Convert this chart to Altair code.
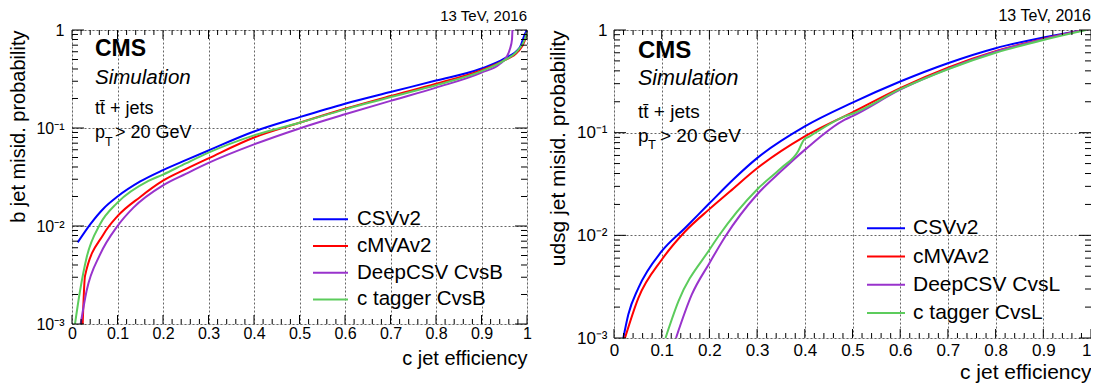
import altair as alt
import pandas as pd

FONT = "Liberation Sans"
COLORS = ["#0000ff", "#ff0000", "#9933cc", "#5ccc5c"]

LEFT_NAMES = ["CSVv2", "cMVAv2", "DeepCSV CvsB", "c tagger CvsB"]
RIGHT_NAMES = ["CSVv2", "cMVAv2", "DeepCSV CvsL", "c tagger CvsL"]

# ---------------- left panel: b jet misid. probability vs c jet efficiency
L_CSV_X = [0.0125, 0.04, 0.07, 0.10, 0.15, 0.20, 0.25, 0.30, 0.40, 0.50, 0.60, 0.70, 0.80, 0.90, 0.95, 0.984, 0.995, 1.0]
L_CSV_Y = [0.0068, 0.0104, 0.0152, 0.020, 0.0285, 0.0372, 0.047, 0.059, 0.092, 0.129, 0.177, 0.233, 0.305, 0.405, 0.51, 0.66, 0.90, 1.0]

L_MVA_X = [0.0235, 0.0286, 0.069, 0.10, 0.15, 0.20, 0.25, 0.30, 0.40, 0.50, 0.60, 0.70, 0.80, 0.90, 0.95, 0.98, 0.995, 1.0]
L_MVA_Y = [0.001, 0.0031, 0.0082, 0.0126, 0.0198, 0.029, 0.038, 0.049, 0.080, 0.113, 0.157, 0.212, 0.283, 0.39, 0.49, 0.60, 0.78, 0.95]

L_DEEP_X = [0.019, 0.032, 0.0615, 0.10, 0.135, 0.20, 0.25, 0.30, 0.40, 0.50, 0.60, 0.70, 0.80, 0.90, 0.94, 0.955, 0.963, 0.967, 0.968]
L_DEEP_Y = [0.001, 0.00217, 0.0051, 0.010, 0.0154, 0.026, 0.034, 0.044, 0.068, 0.099, 0.138, 0.189, 0.258, 0.367, 0.45, 0.53, 0.65, 0.80, 1.0]

L_CTAG_X = [0.0066, 0.0176, 0.032, 0.0615, 0.10, 0.168, 0.20, 0.25, 0.30, 0.40, 0.50, 0.60, 0.70, 0.80, 0.90, 0.95, 0.98, 0.995, 1.0]
L_CTAG_Y = [0.001, 0.00217, 0.00475, 0.0104, 0.0173, 0.0288, 0.0335, 0.0435, 0.056, 0.084, 0.113, 0.155, 0.207, 0.273, 0.38, 0.49, 0.62, 0.80, 0.95]

# ---------------- right panel: udsg jet misid. probability vs c jet efficiency
R_CSV_X = [0.0196, 0.030, 0.051, 0.10, 0.149, 0.20, 0.25, 0.30, 0.40, 0.50, 0.60, 0.70, 0.80, 0.90, 0.985]
R_CSV_Y = [0.001, 0.00169, 0.00306, 0.0070, 0.0118, 0.0205, 0.035, 0.0565, 0.115, 0.196, 0.315, 0.475, 0.665, 0.845, 1.0]

R_MVA_X = [0.023, 0.051, 0.10, 0.149, 0.20, 0.243, 0.30, 0.40, 0.50, 0.60, 0.70, 0.80, 0.90, 0.985]
R_MVA_Y = [0.001, 0.00245, 0.00578, 0.0109, 0.018, 0.0267, 0.045, 0.092, 0.158, 0.272, 0.43, 0.62, 0.82, 1.0]

R_DEEP_X = [0.130, 0.163, 0.20, 0.233, 0.30, 0.35, 0.40, 0.484, 0.50, 0.60, 0.70, 0.80, 0.90, 0.985]
R_DEEP_Y = [0.001, 0.00264, 0.00536, 0.0097, 0.025, 0.042, 0.068, 0.134, 0.145, 0.262, 0.418, 0.615, 0.815, 1.0]

R_CTAG_X = [0.108, 0.135, 0.20, 0.219, 0.30, 0.35, 0.386, 0.398, 0.41, 0.484, 0.50, 0.60, 0.70, 0.80, 0.90, 0.99]
R_CTAG_Y = [0.001, 0.00227, 0.00724, 0.0098, 0.028, 0.045, 0.066, 0.085, 0.092, 0.144, 0.153, 0.265, 0.415, 0.60, 0.80, 1.0]

# ---------------- axes
X_MAJOR = [0.0, 0.1, 0.2, 0.3, 0.4, 0.5, 0.6, 0.7, 0.8, 0.9, 1.0]
X_MINOR = [round(0.02 * i, 2) for i in range(1, 50) if i % 5 != 0]
Y_MAJOR = [0.001, 0.01, 0.1, 1.0]
Y_MINOR = [m * d for d in (0.001, 0.01, 0.1) for m in range(2, 10)]

X_LABEL_EXPR = "datum.value == 0 ? '0' : datum.value == 1 ? '1' : format(datum.value, '.1f')"
Y_LABEL_EXPR = ("datum.value >= 0.5 ? '1' : datum.value >= 0.05 ? '10\u207b\u00b9' : "
                "datum.value >= 0.005 ? '10\u207b\u00b2' : '10\u207b\u00b3'")


def make_df(names, series):
    rows = []
    for k, (xs, ys) in enumerate(series):
        for i, (x, y) in enumerate(zip(xs, ys)):
            rows.append({"x": x, "y": y, "tagger": names[k], "k": k, "i": i})
    return pd.DataFrame(rows)


def panel(names, series, W, H, ytitle, s):
    df = make_df(names, series)
    xs = alt.Scale(domain=[0, 1], nice=False, zero=False)
    ys = alt.Scale(type="log", domain=[0.001, 1], nice=False)
    xalign = "center"
    if s["last_right"]:
        xalign = {"condition": {"test": "datum.value >= 0.99", "value": "right"}, "value": "center"}
    xaxis = alt.Axis(values=X_MAJOR, labelExpr=X_LABEL_EXPR, grid=True, gridDash=[2, 2],
                     gridColor="#666666", gridWidth=1, ticks=False, domain=False,
                     labelFontSize=s["lab"], labelFont=FONT, labelColor="black",
                     labelPadding=s["xlabpad"], labelFlush=False, labelOverlap=False,
                     labelAlign=xalign,
                     title="c jet efficiency", titleAnchor="end", titleFontSize=s["tit"],
                     titleFont=FONT, titleFontWeight="normal", titleColor="black",
                     titlePadding=s["xtitpad"])
    yaxis = alt.Axis(values=Y_MAJOR, labelExpr=Y_LABEL_EXPR, grid=True, gridDash=[2, 2],
                     gridColor="#666666", gridWidth=1, ticks=False, domain=False,
                     labelFontSize=s["lab"], labelFont=FONT, labelColor="black",
                     labelPadding=s["ylabpad"], labelFlush=False, labelOverlap=False,
                     title=ytitle, titleAnchor="end", titleFontSize=s["tit"],
                     titleFont=FONT, titleFontWeight="normal", titleColor="black",
                     titlePadding=s["ytitpad"])

    lines = alt.Chart(df).mark_line(strokeWidth=2, clip=True, interpolate="monotone").encode(
        x=alt.X("x:Q", scale=xs, axis=xaxis),
        y=alt.Y("y:Q", scale=ys, axis=yaxis),
        color=alt.Color("tagger:N", scale=alt.Scale(domain=names, range=COLORS), legend=None),
        detail="k:N",
        order="i:Q",
    )

    layers = [lines]
    xmaj = pd.DataFrame({"t": X_MAJOR})
    xmin = pd.DataFrame({"t": X_MINOR})
    ymaj = pd.DataFrame({"t": Y_MAJOR})
    ymin = pd.DataFrame({"t": Y_MINOR})
    for d, L in ((xmaj, 9), (xmin, 5)):
        for y0, y1 in ((H, H - L), (0, L)):
            layers.append(alt.Chart(d).mark_rule(color="black", strokeWidth=1).encode(
                x=alt.X("t:Q", scale=xs, axis=xaxis), y=alt.value(y0), y2=alt.value(y1)))
    for d, L in ((ymaj, 12), (ymin, 6)):
        for x0, x1 in ((0, L), (W, W - L)):
            layers.append(alt.Chart(d).mark_rule(color="black", strokeWidth=1).encode(
                y=alt.Y("t:Q", scale=ys, axis=yaxis), x=alt.value(x0), x2=alt.value(x1)))

    one = pd.DataFrame({"a": [0]})

    def txt(text, x, y, size, weight="normal", style="normal", align="left", baseline="alphabetic"):
        return alt.Chart(one).mark_text(text=text, font=FONT, fontSize=size, fontWeight=weight,
                                        fontStyle=style, align=align, baseline=baseline,
                                        color="black").encode(x=alt.value(x), y=alt.value(y))

    layers.append(txt("13 TeV, 2016", W, s["tev_y"], s["tev"], align="right"))
    layers.append(txt("CMS", s["tx"], s["cms_y"], s["cms"], weight="bold"))
    layers.append(txt("Simulation", s["tx"], s["sim_y"], s["sim"], style="italic"))
    layers.append(txt("t" + "t\u0304" + " + jets", s["tx"], s["tt_y"], s["small"]))
    layers.append(txt("p", s["tx"], s["pt_y"], s["small"]))
    layers.append(txt("T", s["tx"] + s["T_dx"], s["pt_y"] + s["T_dy"], s["sub"]))
    layers.append(txt("> 20 GeV", s["tx"] + s["gt_dx"], s["pt_y"], s["small"]))

    for k, name in enumerate(names):
        ly = s["leg_y"] + k * s["leg_dy"]
        layers.append(alt.Chart(one).mark_rule(color=COLORS[k], strokeWidth=2).encode(
            x=alt.value(s["leg_x"]), x2=alt.value(s["leg_x"] + s["leg_len"]), y=alt.value(ly)))
        layers.append(txt(name, s["leg_x"] + s["leg_len"] + s["leg_off"], ly, s["leg"],
                          baseline="middle"))

    return alt.layer(*layers).properties(width=W, height=H)


left_style = dict(lab=16, tit=20, xlabpad=1, xtitpad=7, ylabpad=8, ytitpad=7, last_right=False,
                  tev=15, tev_y=-9.5, tx=23, cms=23, cms_y=26, sim=20.5, sim_y=53.7,
                  small=18, tt_y=84.3, pt_y=107.7, sub=12.5, T_dx=10, T_dy=8, gt_dx=20,
                  leg=20.5, leg_x=241, leg_len=35, leg_off=9, leg_y=189.3, leg_dy=26.7)
right_style = dict(lab=17, tit=21, xlabpad=4, xtitpad=3, ylabpad=7, ytitpad=8, last_right=True,
                   tev=16, tev_y=-9.2, tx=24, cms=24, cms_y=28, sim=21.5, sim_y=55,
                   small=19, tt_y=88.2, pt_y=111.5, sub=13, T_dx=10, T_dy=7, gt_dx=22,
                   leg=21, leg_x=253, leg_len=38, leg_off=8, leg_y=198.2, leg_dy=28.3)

left = panel(LEFT_NAMES,
             [(L_CSV_X, L_CSV_Y), (L_MVA_X, L_MVA_Y), (L_DEEP_X, L_DEEP_Y), (L_CTAG_X, L_CTAG_Y)],
             455, 294, "b jet misid. probability", left_style)
right = panel(RIGHT_NAMES,
              [(R_CSV_X, R_CSV_Y), (R_MVA_X, R_MVA_Y), (R_DEEP_X, R_DEEP_Y), (R_CTAG_X, R_CTAG_Y)],
              477, 308, "udsg jet misid. probability", right_style)

chart = alt.hconcat(left, right, spacing=14).resolve_scale(
    color="independent", x="independent", y="independent"
).properties(
    padding={"left": 0, "top": -1, "right": -1, "bottom": 0}
).configure_view(stroke="black", strokeWidth=2).configure(font=FONT)

chart.save("out.html", embed_options={"renderer": "svg", "actions": False})
